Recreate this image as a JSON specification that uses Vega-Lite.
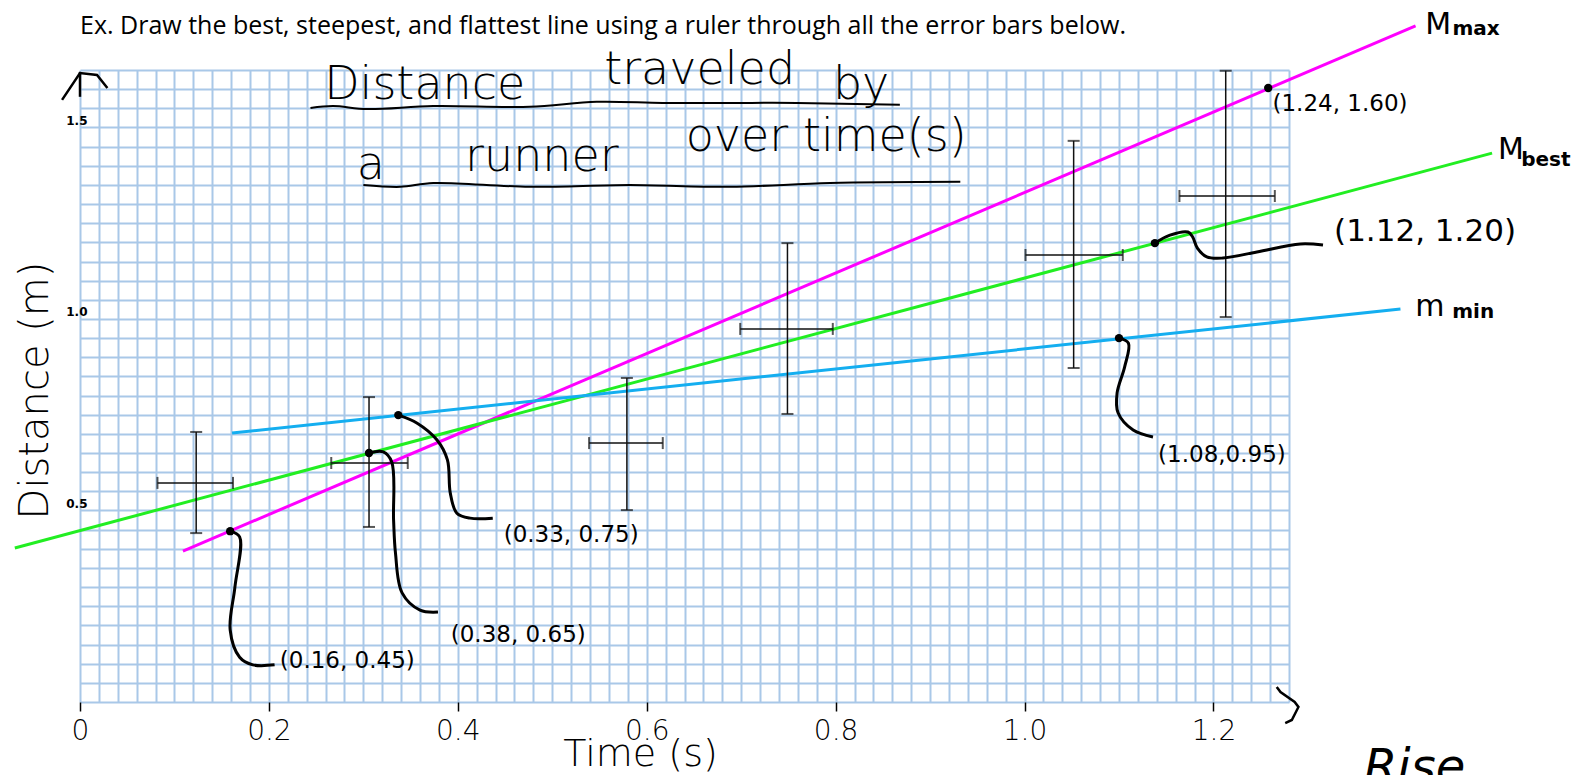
{
  "$schema": "https://vega.github.io/schema/vega-lite/v6.json",
  "width": 1209,
  "height": 632,
  "autosize": {"type": "none"},
  "padding": {"left": 80, "top": 70, "right": 297, "bottom": 73},
  "background": "white",
  "config": {"view": {"stroke": null}},
  "datasets": {
    "bars": [
      {"x": 0.123, "y": 0.572, "xlo": 0.082, "xhi": 0.162, "ylo": 0.441, "yhi": 0.705},
      {"x": 0.306, "y": 0.624, "xlo": 0.266, "xhi": 0.347, "ylo": 0.457, "yhi": 0.796},
      {"x": 0.579, "y": 0.676, "xlo": 0.539, "xhi": 0.617, "ylo": 0.501, "yhi": 0.846},
      {"x": 0.749, "y": 0.974, "xlo": 0.699, "xhi": 0.797, "ylo": 0.752, "yhi": 1.198},
      {"x": 1.052, "y": 1.167, "xlo": 1.001, "xhi": 1.104, "ylo": 0.872, "yhi": 1.465},
      {"x": 1.213, "y": 1.321, "xlo": 1.164, "xhi": 1.265, "ylo": 1.005, "yhi": 1.648}
    ],
    "fits": [
      {"line": "max", "x": 0.109, "y": 0.394}, {"line": "max", "x": 1.414, "y": 1.765},
      {"line": "best", "x": -0.069, "y": 0.402}, {"line": "best", "x": 1.495, "y": 1.433},
      {"line": "min", "x": 0.161, "y": 0.702}, {"line": "min", "x": 1.398, "y": 1.026}
    ],
    "picked": [
      {"x": 0.159, "y": 0.446}, {"x": 0.306, "y": 0.65}, {"x": 0.337, "y": 0.749},
      {"x": 1.138, "y": 1.198}, {"x": 1.1, "y": 0.95}, {"x": 1.258, "y": 1.603}
    ],
    "heading": [
      {"text": "Ex. Draw the best, steepest, and flattest line using a ruler through all the error bars below.", "x": 0, "y": 1.744}
    ],
    "pointLabels": [
      {"text": "(1.24, 1.60)", "x": 1.334, "y": 1.561, "g": "n"},
      {"text": "(1.12, 1.20)", "x": 1.424, "y": 1.227, "g": "big"},
      {"text": "(1.08,0.95)", "x": 1.209, "y": 0.645, "g": "n"},
      {"text": "(0.33, 0.75)", "x": 0.52, "y": 0.436, "g": "n"},
      {"text": "(0.38, 0.65)", "x": 0.464, "y": 0.175, "g": "n"},
      {"text": "(0.16, 0.45)", "x": 0.283, "y": 0.107, "g": "n"}
    ],
    "lineLabels": [
      {"text": "M", "x": 1.438, "y": 1.768, "part": "main"}, {"text": "max", "x": 1.478, "y": 1.758, "part": "sub"},
      {"text": "M", "x": 1.515, "y": 1.441, "part": "main"}, {"text": "best", "x": 1.552, "y": 1.415, "part": "sub"},
      {"text": "m", "x": 1.429, "y": 1.031, "part": "main"}, {"text": "min", "x": 1.475, "y": 1.018, "part": "sub"}
    ],
    "headline": [
      {"text": "Distance", "x": 0.365, "y": 1.611}, {"text": "traveled", "x": 0.656, "y": 1.65},
      {"text": "by", "x": 0.827, "y": 1.611}, {"text": "a", "x": 0.308, "y": 1.402},
      {"text": "runner", "x": 0.489, "y": 1.423}, {"text": "over time(s)", "x": 0.79, "y": 1.475}
    ],
    "notes": [{"text": "Rise", "x": 1.413, "y": -0.112}],
    "strokes": [
      {"id": "L1", "pen": "marker", "o": 1, "x": 0.159, "y": 0.446}, {"id": "L1", "pen": "marker", "o": 2, "x": 0.169, "y": 0.431},
      {"id": "L1", "pen": "marker", "o": 3, "x": 0.164, "y": 0.3}, {"id": "L1", "pen": "marker", "o": 4, "x": 0.159, "y": 0.188},
      {"id": "L1", "pen": "marker", "o": 5, "x": 0.169, "y": 0.117}, {"id": "L1", "pen": "marker", "o": 6, "x": 0.183, "y": 0.097},
      {"id": "L1", "pen": "marker", "o": 7, "x": 0.206, "y": 0.097},
      {"id": "L2", "pen": "marker", "o": 1, "x": 0.306, "y": 0.65}, {"id": "L2", "pen": "marker", "o": 2, "x": 0.321, "y": 0.653},
      {"id": "L2", "pen": "marker", "o": 3, "x": 0.33, "y": 0.627}, {"id": "L2", "pen": "marker", "o": 4, "x": 0.332, "y": 0.475},
      {"id": "L2", "pen": "marker", "o": 5, "x": 0.334, "y": 0.389}, {"id": "L2", "pen": "marker", "o": 6, "x": 0.341, "y": 0.285},
      {"id": "L2", "pen": "marker", "o": 7, "x": 0.36, "y": 0.24}, {"id": "L2", "pen": "marker", "o": 8, "x": 0.379, "y": 0.235},
      {"id": "L3", "pen": "marker", "o": 1, "x": 0.337, "y": 0.749}, {"id": "L3", "pen": "marker", "o": 2, "x": 0.357, "y": 0.728},
      {"id": "L3", "pen": "marker", "o": 3, "x": 0.378, "y": 0.684}, {"id": "L3", "pen": "marker", "o": 4, "x": 0.389, "y": 0.632},
      {"id": "L3", "pen": "marker", "o": 5, "x": 0.392, "y": 0.546}, {"id": "L3", "pen": "marker", "o": 6, "x": 0.399, "y": 0.493},
      {"id": "L3", "pen": "marker", "o": 7, "x": 0.413, "y": 0.48}, {"id": "L3", "pen": "marker", "o": 8, "x": 0.437, "y": 0.48},
      {"id": "L4", "pen": "marker", "o": 1, "x": 1.138, "y": 1.198}, {"id": "L4", "pen": "marker", "o": 2, "x": 1.154, "y": 1.219},
      {"id": "L4", "pen": "marker", "o": 3, "x": 1.173, "y": 1.227}, {"id": "L4", "pen": "marker", "o": 4, "x": 1.178, "y": 1.214},
      {"id": "L4", "pen": "marker", "o": 5, "x": 1.183, "y": 1.185}, {"id": "L4", "pen": "marker", "o": 6, "x": 1.193, "y": 1.162},
      {"id": "L4", "pen": "marker", "o": 7, "x": 1.21, "y": 1.159}, {"id": "L4", "pen": "marker", "o": 8, "x": 1.246, "y": 1.175},
      {"id": "L4", "pen": "marker", "o": 9, "x": 1.292, "y": 1.196}, {"id": "L4", "pen": "marker", "o": 10, "x": 1.316, "y": 1.193},
      {"id": "L5", "pen": "marker", "o": 1, "x": 1.1, "y": 0.95}, {"id": "L5", "pen": "marker", "o": 2, "x": 1.11, "y": 0.937},
      {"id": "L5", "pen": "marker", "o": 3, "x": 1.106, "y": 0.875}, {"id": "L5", "pen": "marker", "o": 4, "x": 1.098, "y": 0.807},
      {"id": "L5", "pen": "marker", "o": 5, "x": 1.099, "y": 0.755}, {"id": "L5", "pen": "marker", "o": 6, "x": 1.115, "y": 0.71},
      {"id": "L5", "pen": "marker", "o": 7, "x": 1.136, "y": 0.692},
      {"id": "U1", "pen": "fine", "o": 1, "x": 0.244, "y": 1.551}, {"id": "U1", "pen": "fine", "o": 2, "x": 0.268, "y": 1.556},
      {"id": "U1", "pen": "fine", "o": 3, "x": 0.304, "y": 1.548}, {"id": "U1", "pen": "fine", "o": 4, "x": 0.374, "y": 1.556},
      {"id": "U1", "pen": "fine", "o": 5, "x": 0.476, "y": 1.554}, {"id": "U1", "pen": "fine", "o": 6, "x": 0.547, "y": 1.567},
      {"id": "U1", "pen": "fine", "o": 7, "x": 0.617, "y": 1.564}, {"id": "U1", "pen": "fine", "o": 8, "x": 0.688, "y": 1.564},
      {"id": "U1", "pen": "fine", "o": 9, "x": 0.759, "y": 1.564}, {"id": "U1", "pen": "fine", "o": 10, "x": 0.868, "y": 1.559},
      {"id": "U2", "pen": "fine", "o": 1, "x": 0.3, "y": 1.35}, {"id": "U2", "pen": "fine", "o": 2, "x": 0.339, "y": 1.345},
      {"id": "U2", "pen": "fine", "o": 3, "x": 0.374, "y": 1.355}, {"id": "U2", "pen": "fine", "o": 4, "x": 0.476, "y": 1.345},
      {"id": "U2", "pen": "fine", "o": 5, "x": 0.582, "y": 1.35}, {"id": "U2", "pen": "fine", "o": 6, "x": 0.688, "y": 1.345},
      {"id": "U2", "pen": "fine", "o": 7, "x": 0.794, "y": 1.355}, {"id": "U2", "pen": "fine", "o": 8, "x": 0.932, "y": 1.358},
      {"id": "A1", "pen": "arrow", "o": 1, "x": -0.019, "y": 1.572}, {"id": "A1", "pen": "arrow", "o": 2, "x": 0, "y": 1.642},
      {"id": "A1", "pen": "arrow", "o": 3, "x": 0.018, "y": 1.637}, {"id": "A1", "pen": "arrow", "o": 4, "x": 0.029, "y": 1.603},
      {"id": "A2", "pen": "arrow", "o": 1, "x": 0, "y": 1.645}, {"id": "A2", "pen": "arrow", "o": 2, "x": 0, "y": 1.58},
      {"id": "A3", "pen": "arrow", "o": 1, "x": 1.267, "y": 0.039}, {"id": "A3", "pen": "arrow", "o": 2, "x": 1.271, "y": 0.026},
      {"id": "A3", "pen": "arrow", "o": 3, "x": 1.286, "y": 0}, {"id": "A3", "pen": "arrow", "o": 4, "x": 1.29, "y": -0.013},
      {"id": "A3", "pen": "arrow", "o": 5, "x": 1.283, "y": -0.047}, {"id": "A3", "pen": "arrow", "o": 6, "x": 1.276, "y": -0.055}
    ]
  },
  "resolve": {"axis": {"x": "independent", "y": "independent"}},
  "layer": [
    {
      "data": {"name": "fits"},
      "mark": {"type": "line", "strokeWidth": 3},
      "encoding": {
        "x": {"field": "x", "type": "quantitative", "scale": {"domain": [0, 1.28], "nice": false, "zero": false},
          "axis": {"values": [0, 0.2, 0.4, 0.6, 0.8, 1, 1.2], "orient": "bottom", "grid": false, "domain": false, "ticks": true, "tickSize": 9, "tickColor": "black", "tickWidth": 1.5, "labelFlush": false, "labelExpr": "datum.value == 0 ? '0' : format(datum.value, '.1f')", "labelFont": "DejaVu Sans", "labelFontWeight": 200, "labelFontSize": 28, "labelColor": "black", "labelPadding": 6, "title": "Time (s)", "titleFont": "DejaVu Sans", "titleFontWeight": 200, "titleFontSize": 38, "titleColor": "black", "titleX": 560, "titleY": 52, "titleBaseline": "middle", "titleAlign": "center"}},
        "y": {"field": "y", "type": "quantitative", "scale": {"domain": [0, 1.65], "nice": false, "zero": false},
          "axis": {"values": [0.5, 1, 1.5], "orient": "left", "grid": false, "domain": false, "ticks": false, "labelFlush": false, "labelExpr": "format(datum.value, '.1f')", "labelFont": "DejaVu Sans", "labelFontWeight": "bold", "labelFontSize": 12, "labelColor": "black", "labelPadding": -7, "labelBaseline": "bottom", "title": "Distance (m)", "titleFont": "DejaVu Sans", "titleFontWeight": 200, "titleFontSize": 40, "titleColor": "black", "titleX": -45, "titleY": 320, "titleBaseline": "middle", "titleAlign": "center", "titleAngle": -90}},
        "color": {"field": "line", "type": "nominal", "scale": {"domain": ["max", "best", "min"], "range": ["#ff00ff", "#22ee22", "#14aef0"]}, "legend": null}
      }
    },
    {
      "data": {"name": "bars"},
      "mark": {"type": "rule", "strokeWidth": 1.5, "color": "#111111"},
      "encoding": {
        "x": {"field": "x", "type": "quantitative", "scale": {"domain": [0, 1.28], "nice": false, "zero": false},
          "axis": {"values": [0,0.02,0.04,0.06,0.08,0.1,0.12,0.14,0.16,0.18,0.2,0.22,0.24,0.26,0.28,0.3,0.32,0.34,0.36,0.38,0.4,0.42,0.44,0.46,0.48,0.5,0.52,0.54,0.56,0.58,0.6,0.62,0.64,0.66,0.68,0.7,0.72,0.74,0.76,0.78,0.8,0.82,0.84,0.86,0.88,0.9,0.92,0.94,0.96,0.98,1,1.02,1.04,1.06,1.08,1.1,1.12,1.14,1.16,1.18,1.2,1.22,1.24,1.26,1.28], "orient": "bottom", "grid": true, "gridColor": "#a9c8e8", "gridWidth": 2, "gridOpacity": 1, "labels": false, "ticks": false, "domain": false, "title": null}},
        "y": {"field": "ylo", "type": "quantitative", "scale": {"domain": [0, 1.65], "nice": false, "zero": false},
          "axis": {"values": [0,0.05,0.1,0.15,0.2,0.25,0.3,0.35,0.4,0.45,0.5,0.55,0.6,0.65,0.7,0.75,0.8,0.85,0.9,0.95,1,1.05,1.1,1.15,1.2,1.25,1.3,1.35,1.4,1.45,1.5,1.55,1.6,1.65], "orient": "left", "grid": true, "gridColor": "#a9c8e8", "gridWidth": 2, "gridOpacity": 1, "labels": false, "ticks": false, "domain": false, "title": null}},
        "y2": {"field": "yhi"}
      }
    },
    {
      "data": {"name": "bars"},
      "mark": {"type": "rule", "strokeWidth": 1.5, "color": "#111111"},
      "encoding": {
        "x": {"field": "xlo", "type": "quantitative", "scale": {"domain": [0, 1.28], "nice": false, "zero": false}, "axis": null},
        "x2": {"field": "xhi"},
        "y": {"field": "y", "type": "quantitative", "scale": {"domain": [0, 1.65], "nice": false, "zero": false}, "axis": null}
      }
    },
    {
      "data": {"name": "bars"},
      "mark": {"type": "tick", "orient": "horizontal", "size": 12, "thickness": 2, "color": "#111111"},
      "encoding": {
        "x": {"field": "x", "type": "quantitative", "scale": {"domain": [0, 1.28], "nice": false, "zero": false}, "axis": null},
        "y": {"field": "yhi", "type": "quantitative", "scale": {"domain": [0, 1.65], "nice": false, "zero": false}, "axis": null}
      }
    },
    {
      "data": {"name": "bars"},
      "mark": {"type": "tick", "orient": "horizontal", "size": 12, "thickness": 2, "color": "#111111"},
      "encoding": {
        "x": {"field": "x", "type": "quantitative", "scale": {"domain": [0, 1.28], "nice": false, "zero": false}, "axis": null},
        "y": {"field": "ylo", "type": "quantitative", "scale": {"domain": [0, 1.65], "nice": false, "zero": false}, "axis": null}
      }
    },
    {
      "data": {"name": "bars"},
      "mark": {"type": "tick", "orient": "vertical", "size": 12, "thickness": 2, "color": "#111111"},
      "encoding": {
        "x": {"field": "xlo", "type": "quantitative", "scale": {"domain": [0, 1.28], "nice": false, "zero": false}, "axis": null},
        "y": {"field": "y", "type": "quantitative", "scale": {"domain": [0, 1.65], "nice": false, "zero": false}, "axis": null}
      }
    },
    {
      "data": {"name": "bars"},
      "mark": {"type": "tick", "orient": "vertical", "size": 12, "thickness": 2, "color": "#111111"},
      "encoding": {
        "x": {"field": "xhi", "type": "quantitative", "scale": {"domain": [0, 1.28], "nice": false, "zero": false}, "axis": null},
        "y": {"field": "y", "type": "quantitative", "scale": {"domain": [0, 1.65], "nice": false, "zero": false}, "axis": null}
      }
    },
    {
      "data": {"name": "strokes"},
      "transform": [{"filter": "datum.pen == 'marker'"}],
      "mark": {"type": "line", "strokeWidth": 3, "color": "black", "interpolate": "catmull-rom"},
      "encoding": {
        "x": {"field": "x", "type": "quantitative", "scale": {"domain": [0, 1.28], "nice": false, "zero": false}, "axis": null},
        "y": {"field": "y", "type": "quantitative", "scale": {"domain": [0, 1.65], "nice": false, "zero": false}, "axis": null},
        "detail": {"field": "id"},
        "order": {"field": "o", "type": "quantitative"}
      }
    },
    {
      "data": {"name": "strokes"},
      "transform": [{"filter": "datum.pen == 'fine'"}],
      "mark": {"type": "line", "strokeWidth": 2, "color": "black", "interpolate": "catmull-rom"},
      "encoding": {
        "x": {"field": "x", "type": "quantitative", "scale": {"domain": [0, 1.28], "nice": false, "zero": false}, "axis": null},
        "y": {"field": "y", "type": "quantitative", "scale": {"domain": [0, 1.65], "nice": false, "zero": false}, "axis": null},
        "detail": {"field": "id"},
        "order": {"field": "o", "type": "quantitative"}
      }
    },
    {
      "data": {"name": "strokes"},
      "transform": [{"filter": "datum.pen == 'arrow'"}],
      "mark": {"type": "line", "strokeWidth": 2.5, "color": "black", "interpolate": "linear"},
      "encoding": {
        "x": {"field": "x", "type": "quantitative", "scale": {"domain": [0, 1.28], "nice": false, "zero": false}, "axis": null},
        "y": {"field": "y", "type": "quantitative", "scale": {"domain": [0, 1.65], "nice": false, "zero": false}, "axis": null},
        "detail": {"field": "id"},
        "order": {"field": "o", "type": "quantitative"}
      }
    },
    {
      "data": {"name": "picked"},
      "mark": {"type": "point", "filled": true, "size": 70, "color": "black", "opacity": 1},
      "encoding": {
        "x": {"field": "x", "type": "quantitative", "scale": {"domain": [0, 1.28], "nice": false, "zero": false}, "axis": null},
        "y": {"field": "y", "type": "quantitative", "scale": {"domain": [0, 1.65], "nice": false, "zero": false}, "axis": null}
      }
    },
    {
      "data": {"name": "heading"},
      "mark": {"type": "text", "font": "Open Sans", "fontSize": 25, "color": "black", "align": "left", "baseline": "alphabetic"},
      "encoding": {
        "x": {"field": "x", "type": "quantitative", "scale": {"domain": [0, 1.28], "nice": false, "zero": false}, "axis": null},
        "y": {"field": "y", "type": "quantitative", "scale": {"domain": [0, 1.65], "nice": false, "zero": false}, "axis": null},
        "text": {"field": "text"}
      }
    },
    {
      "data": {"name": "headline"},
      "mark": {"type": "text", "font": "DejaVu Sans", "fontWeight": 200, "fontSize": 46, "color": "black", "align": "center", "baseline": "middle"},
      "encoding": {
        "x": {"field": "x", "type": "quantitative", "scale": {"domain": [0, 1.28], "nice": false, "zero": false}, "axis": null},
        "y": {"field": "y", "type": "quantitative", "scale": {"domain": [0, 1.65], "nice": false, "zero": false}, "axis": null},
        "text": {"field": "text"}
      }
    },
    {
      "data": {"name": "pointLabels"},
      "transform": [{"filter": "datum.g == 'n'"}],
      "mark": {"type": "text", "font": "DejaVu Sans", "fontSize": 23, "color": "black", "align": "center", "baseline": "middle"},
      "encoding": {
        "x": {"field": "x", "type": "quantitative", "scale": {"domain": [0, 1.28], "nice": false, "zero": false}, "axis": null},
        "y": {"field": "y", "type": "quantitative", "scale": {"domain": [0, 1.65], "nice": false, "zero": false}, "axis": null},
        "text": {"field": "text"}
      }
    },
    {
      "data": {"name": "pointLabels"},
      "transform": [{"filter": "datum.g == 'big'"}],
      "mark": {"type": "text", "font": "DejaVu Sans", "fontSize": 31, "color": "black", "align": "center", "baseline": "middle"},
      "encoding": {
        "x": {"field": "x", "type": "quantitative", "scale": {"domain": [0, 1.28], "nice": false, "zero": false}, "axis": null},
        "y": {"field": "y", "type": "quantitative", "scale": {"domain": [0, 1.65], "nice": false, "zero": false}, "axis": null},
        "text": {"field": "text"}
      }
    },
    {
      "data": {"name": "lineLabels"},
      "transform": [{"filter": "datum.part == 'main'"}],
      "mark": {"type": "text", "font": "DejaVu Sans", "fontSize": 30, "color": "black", "align": "center", "baseline": "middle"},
      "encoding": {
        "x": {"field": "x", "type": "quantitative", "scale": {"domain": [0, 1.28], "nice": false, "zero": false}, "axis": null},
        "y": {"field": "y", "type": "quantitative", "scale": {"domain": [0, 1.65], "nice": false, "zero": false}, "axis": null},
        "text": {"field": "text"}
      }
    },
    {
      "data": {"name": "lineLabels"},
      "transform": [{"filter": "datum.part == 'sub'"}],
      "mark": {"type": "text", "font": "DejaVu Sans", "fontSize": 20, "fontWeight": "bold", "color": "black", "align": "center", "baseline": "middle"},
      "encoding": {
        "x": {"field": "x", "type": "quantitative", "scale": {"domain": [0, 1.28], "nice": false, "zero": false}, "axis": null},
        "y": {"field": "y", "type": "quantitative", "scale": {"domain": [0, 1.65], "nice": false, "zero": false}, "axis": null},
        "text": {"field": "text"}
      }
    },
    {
      "data": {"name": "notes"},
      "mark": {"type": "text", "font": "DejaVu Sans", "fontSize": 48, "fontStyle": "italic", "color": "black", "align": "center", "baseline": "top"},
      "encoding": {
        "x": {"field": "x", "type": "quantitative", "scale": {"domain": [0, 1.28], "nice": false, "zero": false}, "axis": null},
        "y": {"field": "y", "type": "quantitative", "scale": {"domain": [0, 1.65], "nice": false, "zero": false}, "axis": null},
        "text": {"field": "text"}
      }
    }
  ]
}
